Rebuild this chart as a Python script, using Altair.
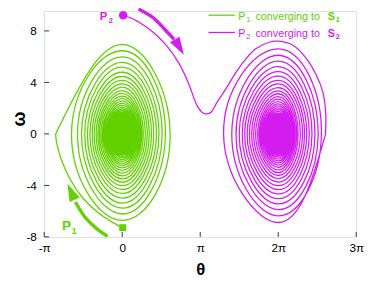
import math
import altair as alt
import pandas as pd

PI = math.pi
TWO_PI = 2 * math.pi

GREEN = "#62d100"
MAGENTA = "#d41cf0"
FRAME = "#333333"
FONT = "Liberation Sans"

# ---------------- data ----------------
# P1 (green): opening arc from the start point to the first left turning point
g_arc_theta = [0.0, -0.40, -0.98, -1.62, -2.10, -2.45, -2.64, -2.68]
g_arc_omega = [-7.28, -6.85, -6.10, -4.90, -3.50, -2.00, -0.70, 0.0]
# turning values of every revolution: left theta, top omega, right theta, bottom omega
g_left = [-2.68, -2.04, -1.80, -1.64, -1.51, -1.40, -1.30, -1.21, -1.13, -1.05,
          -0.98, -0.92, -0.86, -0.80, -0.75, -0.70, -0.65, -0.61, -0.57, -0.53,
          -0.49, -0.46, -0.43, -0.40, -0.37, -0.35]
g_top = [6.95, 6.46, 5.98, 5.56, 5.18, 4.79, 4.46, 4.16, 3.88, 3.63,
         3.37, 3.15, 2.94, 2.74, 2.55, 2.38, 2.22, 2.07, 1.93, 1.80,
         1.68, 1.57, 1.46, 1.36, 1.27, 1.18]
g_right = [1.93, 1.74, 1.61, 1.48, 1.38, 1.27, 1.18, 1.09, 1.01, 0.93,
           0.85, 0.79, 0.74, 0.69, 0.64, 0.60, 0.56, 0.52, 0.48, 0.45,
           0.42, 0.39, 0.36, 0.34, 0.32, 0.30]
g_bottom = [-6.72, -6.22, -5.77, -5.37, -4.98, -4.62, -4.31, -4.02, -3.75, -3.50,
            -3.26, -3.04, -2.84, -2.64, -2.46, -2.30, -2.14, -2.00, -1.86, -1.74,
            -1.62, -1.51, -1.41, -1.31, -1.22, -1.14]

# P2 (magenta): arc from the start point over the hump to the first right turning point
m_arc_theta = [0.0, 0.32, 0.71, 1.26, 1.77, 2.25, 2.64, 3.02, 3.22, 3.39, 3.58, 3.81,
               4.20, 4.60, 4.99, 5.38, 5.91, 6.28, 6.89, 7.42, 7.81, 8.07, 8.19, 8.19]
m_arc_omega = [9.22, 9.02, 8.64, 7.88, 6.89, 5.59, 4.08, 2.18, 1.67, 1.55, 1.69, 2.43,
               3.57, 4.84, 5.85, 6.61, 7.12, 7.20, 6.87, 5.85, 4.59, 3.32, 1.82, 0.0]
# turning values around S2 (theta measured from 2*pi)
m_right = [1.91, 1.74, 1.61, 1.48, 1.36, 1.25, 1.15, 1.06, 0.98, 0.89,
           0.80, 0.745, 0.69, 0.645, 0.60, 0.555, 0.515, 0.48, 0.445, 0.415,
           0.385, 0.36, 0.335, 0.31, 0.29, 0.27]
m_bottom = [-6.88, -6.36, -5.88, -5.43, -5.03, -4.66, -4.32, -4.02, -3.74, -3.47,
            -3.23, -3.01, -2.80, -2.60, -2.42, -2.25, -2.10, -1.95, -1.81, -1.68,
            -1.56, -1.45, -1.35, -1.25, -1.17, -1.09]
m_left = [-2.20, -1.87, -1.70, -1.57, -1.45, -1.35, -1.25, -1.16, -1.07, -0.99,
          -0.91, -0.83, -0.77, -0.72, -0.67, -0.62, -0.58, -0.54, -0.50, -0.465,
          -0.435, -0.405, -0.375, -0.35, -0.325, -0.30]
m_top = [7.20, 6.61, 6.11, 5.65, 5.22, 4.84, 4.48, 4.16, 3.88, 3.60,
         3.34, 3.12, 2.90, 2.70, 2.51, 2.33, 2.17, 2.02, 1.88, 1.75,
         1.62, 1.51, 1.40, 1.30, 1.21, 1.13, 1.05]

# dense centres (lines merge into a solid patch): theta offsets and half heights
core_dtheta = [-0.57, -0.565, -0.54, -0.46, -0.30, 0.0, 0.30, 0.46, 0.54, 0.565, 0.57]
core_half = [0.0, 0.30, 0.62, 1.00, 1.38, 1.62, 1.38, 1.00, 0.62, 0.30, 0.0]

# arrows (body points and head position / heading)
g_arrow_theta = [-0.59, -1.05, -1.51, -1.77, -1.88]
g_arrow_omega = [-7.95, -7.32, -6.43, -5.67, -5.29]
g_head = (-2.06, -4.48, 336)
m_arrow_theta = [0.66, 1.25, 1.71, 2.09]
m_arrow_omega = [9.70, 9.02, 8.13, 7.35]
m_head = (2.30, 6.74, 149)

p1_point = (0.02, -7.28)
p2_point = (0.04, 9.22)

x_ticks = [-PI, 0.0, PI, TWO_PI, 3 * PI]
y_ticks = [-8, -4, 0, 4, 8]

# ---------------- tables ----------------
def path_df(thetas, omegas):
    return pd.DataFrame({"theta": thetas, "omega": omegas, "i": range(len(thetas))})

g_sp_t, g_sp_o = [], []
for l, t, r, b in zip(g_left, g_top, g_right, g_bottom):
    g_sp_t += [l, 0.0, r, 0.0]
    g_sp_o += [0.0, t, 0.0, b]

m_sp_t, m_sp_o = [], []
for r, b, l, t in zip(m_right, m_bottom, m_left, m_top[1:]):
    m_sp_t += [TWO_PI + r, TWO_PI, TWO_PI + l, TWO_PI]
    m_sp_o += [0.0, b, 0.0, t]

g_arc = path_df(g_arc_theta, g_arc_omega)
g_spiral = path_df(g_sp_t, g_sp_o)
m_arc = path_df(m_arc_theta, m_arc_omega)
m_spiral = path_df(m_sp_t, m_sp_o)

g_core = pd.DataFrame({"theta": core_dtheta, "omega": core_half,
                       "omega2": [-h for h in core_half]})
m_core = pd.DataFrame({"theta": [TWO_PI + d for d in core_dtheta], "omega": core_half,
                       "omega2": [-h for h in core_half]})

dummy = pd.DataFrame({"a": [0]})

# ---------------- scales / axes ----------------
xscale = alt.Scale(domain=[-PI, 3 * PI], nice=False, zero=False)
yscale = alt.Scale(domain=[-8, 9.55], nice=False, zero=False)

xaxis = alt.Axis(
    values=x_ticks,
    labelExpr="datum.value < -3 ? '-π' : datum.value < 1 ? '0' : datum.value < 4 ? 'π' : datum.value < 7 ? '2π' : '3π'",
    title="θ", titleFont=FONT, titleFontSize=17, titleFontWeight="bold", titleColor="#000",
    titleY=38, titleBaseline="alphabetic",
    labelFont=FONT, labelFontSize=12, labelColor="#000", labelPadding=6,
    labelFlush=False, labelOverlap=False,
    tickSize=0, tickColor="transparent", domain=False, grid=False,
)
yaxis = alt.Axis(
    values=y_ticks,
    labelExpr="datum.value < 0 ? '-' + abs(datum.value) : '' + datum.value",
    title="ω", titleFont=FONT, titleFontSize=18, titleFontWeight="bold", titleColor="#000",
    titleAngle=270, titleX=-20, titleY=110, titleAlign="center", titleBaseline="alphabetic",
    labelFont=FONT, labelFontSize=12, labelColor="#000", labelPadding=8,
    labelFlush=False, labelOverlap=False,
    tickSize=0, tickColor="transparent", domain=False, grid=False,
)

def X(field="theta"):
    return alt.X(f"{field}:Q", scale=xscale, axis=xaxis)

def Y(field="omega"):
    return alt.Y(f"{field}:Q", scale=yscale, axis=yaxis)

# ---------------- layers ----------------
LW = 1.3

def spiral(df, color):
    return alt.Chart(df).mark_line(color=color, strokeWidth=LW, interpolate="natural").encode(
        x=X(), y=Y(), order=alt.Order("i:Q"))

def arc(df, color, width=LW):
    return alt.Chart(df).mark_line(color=color, strokeWidth=width,
                                   interpolate="catmull-rom").encode(x=X(), y=Y(), order=alt.Order("i:Q"))

def core(df, color):
    return alt.Chart(df).mark_area(color=color, opacity=1, interpolate="monotone").encode(
        x=X(), y=Y(), y2=alt.Y2("omega2:Q"))

def head(h, color):
    df = pd.DataFrame({"theta": [h[0]], "omega": [h[1]]})
    return alt.Chart(df).mark_point(shape="M0,-1L0.62,1L-0.62,1Z", filled=True, size=330,
                                    angle=h[2], color=color, opacity=1).encode(x=X(), y=Y())

def text(t, x, y, size, color, bold=False):
    return alt.Chart(dummy).mark_text(text=t, font=FONT, fontSize=size,
                                      fontWeight="bold" if bold else "normal",
                                      color=color, align="left", baseline="alphabetic").encode(
        x=alt.value(x), y=alt.value(y))

def hline(x1, x2, y, color):
    return alt.Chart(dummy).mark_rule(color=color, strokeWidth=1.3).encode(
        x=alt.value(x1), x2=alt.value(x2), y=alt.value(y))

xt_df = pd.DataFrame({"theta": x_ticks})
yt_df = pd.DataFrame({"omega": y_ticks})
x_tick_marks = alt.Chart(xt_df).mark_rule(color=FRAME, strokeWidth=1).encode(
    x=X(), y=alt.value(231), y2=alt.value(226))
y_tick_marks = alt.Chart(yt_df).mark_rule(color=FRAME, strokeWidth=1).encode(
    y=Y(), x=alt.value(0), x2=alt.value(5))

p1_df = pd.DataFrame({"theta": [p1_point[0]], "omega": [p1_point[1]]})
p2_df = pd.DataFrame({"theta": [p2_point[0]], "omega": [p2_point[1]]})
p1_mark = alt.Chart(p1_df).mark_square(size=50, color=GREEN, opacity=1).encode(x=X(), y=Y())
p2_mark = alt.Chart(p2_df).mark_circle(size=75, color=MAGENTA, opacity=1).encode(x=X(), y=Y())

layers = [
    core(g_core, GREEN), core(m_core, MAGENTA),
    spiral(g_spiral, GREEN), spiral(m_spiral, MAGENTA),
    arc(g_arc, GREEN), arc(m_arc, MAGENTA),
    arc(path_df(g_arrow_theta, g_arrow_omega), GREEN, 3.4),
    arc(path_df(m_arrow_theta, m_arrow_omega), MAGENTA, 3.4),
    head(g_head, GREEN), head(m_head, MAGENTA),
    p1_mark, p2_mark,
    x_tick_marks, y_tick_marks,
    # point labels
    text("P", 18.3, 223.7, 14, GREEN, True), text("1", 28.3, 228, 9, GREEN, True),
    text("P", 56.7, 9.3, 11.5, MAGENTA, True), text("2", 66, 12.7, 7.5, MAGENTA, True),
    # legend
    hline(168, 195, 4.3, GREEN),
    text("P", 198.3, 9.3, 11, GREEN), text("1", 206.5, 11.0, 7.5, GREEN),
    text("converging to", 216, 9.3, 11, GREEN),
    text("S", 290, 9.3, 11, GREEN, True), text("1", 298, 11.0, 7.5, GREEN, True),
    hline(168, 195, 22, MAGENTA),
    text("P", 198.3, 27, 11, MAGENTA), text("2", 206.5, 28.7, 7.5, MAGENTA),
    text("converging to", 216, 27, 11, MAGENTA),
    text("S", 290, 27, 11, MAGENTA, True), text("2", 298, 28.7, 7.5, MAGENTA, True),
]

chart = alt.layer(*layers).properties(
    width=319, height=231,
    autosize=alt.AutoSizeParams(type="none"),
    padding={"left": 37, "top": 0, "right": 10, "bottom": 40},
).configure_view(stroke=FRAME, strokeWidth=1.2).configure(background="white")

chart.save("out.html", embed_options={"renderer": "svg", "actions": False})
